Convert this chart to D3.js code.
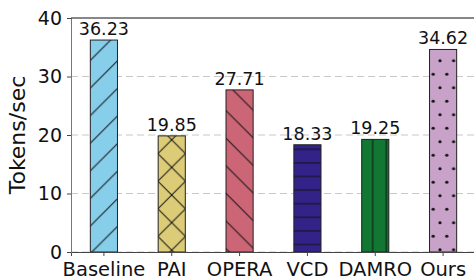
<!DOCTYPE html>
<html>
<head>
<meta charset="utf-8">
<script src="https://cdn.jsdelivr.net/npm/d3@7"></script>
<style>
  body { margin: 0; background: #fff; }
  text { font-family: "DejaVu Sans", sans-serif; }
</style>
</head>
<body>
<div id="box"></div>
<script>
// data
const methods = ['Baseline', 'PAI', 'OPERA', 'VCD', 'DAMRO', 'Ours']
const speeds = [36.23, 19.85, 27.71, 18.33, 19.25, 34.62]
const yTicks = [0, 10, 20, 30, 40]

const colors = ['#87ceeb', '#ddcc77', '#cc6677', '#332288', '#117733', '#c8a2c8']
const hatches = ['fwd', 'cross', 'back', 'horiz', 'vert', 'dots']

const width = 474
const height = 278
const margin = {top: 18, right: -2, bottom: 26, left: 71}

const svg = d3.select('#box').append('svg')
  .attr('width', width)
  .attr('height', height)

const x = d3.scaleBand()
  .domain(methods)
  .range([margin.left, width - margin.right])
  .paddingInner(0.6)
  .paddingOuter(0.285)

const y = d3.scaleLinear()
  .domain([0, 40])
  .range([height - margin.bottom, margin.top])

// hatch patterns
const defs = svg.append('defs')
const s = 27.6, h = 13.6

function pat(id, w, ht, px, py) {
  return defs.append('pattern')
    .attr('id', id)
    .attr('patternUnits', 'userSpaceOnUse')
    .attr('width', w).attr('height', ht)
    .attr('x', px).attr('y', py)
}
function line(p, d) {
  p.append('path').attr('d', d)
    .attr('stroke', '#111')
    .attr('stroke-width', 1)
    .attr('fill', 'none')
}

let p = pat('fwd', s, s, 12.7, 0)
line(p, `M0,${s}L${s},0M-4,4L4,-4M${s - 4},${s + 4}L${s + 4},${s - 4}`)

p = pat('cross', s, s, 171.7 - s / 2, 195 - s / 2)
line(p, `M0,${s}L${s},0M-4,4L4,-4M${s - 4},${s + 4}L${s + 4},${s - 4}`)
line(p, `M0,0L${s},${s}M-4,${s - 4}L4,${s + 4}M${s - 4},-4L${s + 4},4`)

p = pat('back', s, s, 5, 0)
line(p, `M0,0L${s},${s}M-4,${s - 4}L4,${s + 4}M${s - 4},-4L${s + 4},4`)

p = pat('horiz', h, h, 0, 149.3 - h / 2)
line(p, `M0,${h / 2}L${h},${h / 2}`)

p = pat('vert', h, h, 372.7 - h / 2, 0)
line(p, `M${h / 2},0L${h / 2},${h}`)

p = pat('dots', h, 27, 440 - h / 2, 60.7 - 6.75)
p.append('circle').attr('cx', h / 2).attr('cy', 6.75).attr('r', 1.6).attr('fill', '#111')
p.append('circle').attr('cx', 0).attr('cy', 20.25).attr('r', 1.6).attr('fill', '#111')
p.append('circle').attr('cx', h).attr('cy', 20.25).attr('r', 1.6).attr('fill', '#111')

// grid
svg.append('g')
  .selectAll('line')
  .data(yTicks.slice(0, 4))
  .join('line')
  .attr('x1', margin.left)
  .attr('x2', width)
  .attr('y1', d => y(d))
  .attr('y2', d => y(d))
  .attr('stroke', '#c8c8c8')
  .attr('stroke-width', 1.2)
  .attr('stroke-dasharray', '7,4')

// bars
const bars = svg.append('g')
bars.selectAll('rect.fill')
  .data(speeds)
  .join('rect')
  .attr('class', 'fill')
  .attr('x', (d, i) => x(methods[i]))
  .attr('y', d => y(d))
  .attr('width', x.bandwidth())
  .attr('height', d => y(0) - y(d))
  .attr('fill', (d, i) => colors[i])
bars.selectAll('rect.hatch')
  .data(speeds)
  .join('rect')
  .attr('class', 'hatch')
  .attr('x', (d, i) => x(methods[i]))
  .attr('y', d => y(d))
  .attr('width', x.bandwidth())
  .attr('height', d => y(0) - y(d))
  .attr('fill', (d, i) => `url(#${hatches[i]})`)
  .attr('stroke', '#222')
  .attr('stroke-width', 1)

// value labels
svg.append('g')
  .selectAll('text')
  .data(speeds)
  .join('text')
  .attr('x', (d, i) => x(methods[i]) + x.bandwidth() / 2)
  .attr('y', d => y(d) - 5)
  .attr('text-anchor', 'middle')
  .style('font-size', '17.5px')
  .attr('fill', '#111')
  .text(d => d.toFixed(2))

// axes
const xAxis = svg.append('g')
  .attr('transform', `translate(0,${y(0)})`)
  .call(d3.axisBottom(x).tickSize(4).tickPadding(6))
xAxis.selectAll('text').style('font-size', '19.5px').attr('fill', '#111')
xAxis.select('.domain').attr('stroke', '#444')
xAxis.selectAll('.tick line').attr('stroke', '#444')

const yAxis = svg.append('g')
  .attr('transform', `translate(${margin.left},0)`)
  .call(d3.axisLeft(y).tickValues(yTicks).tickSize(4).tickPadding(5))
yAxis.selectAll('text').style('font-size', '19px').attr('fill', '#111')
yAxis.select('.domain').attr('stroke', '#777')
yAxis.selectAll('.tick line').attr('stroke', '#444')

// top spine
svg.append('line')
  .attr('x1', margin.left).attr('x2', width)
  .attr('y1', y(40)).attr('y2', y(40))
  .attr('stroke', '#111')

// y label
svg.append('text')
  .attr('transform', `translate(17,${(y(0) + y(40)) / 2}) rotate(-90)`)
  .attr('text-anchor', 'middle')
  .attr('dy', '0.35em')
  .style('font-size', '22px')
  .attr('fill', '#111')
  .text('Tokens/sec')
</script>
</body>
</html>
